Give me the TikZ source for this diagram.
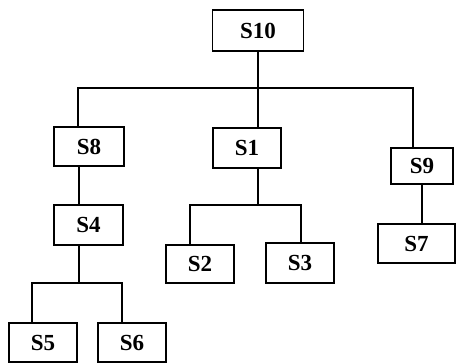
\documentclass[tikz,border=0pt]{standalone}
\usepackage{fontspec}
\setmainfont{Liberation Serif}
\begin{document}
\begin{tikzpicture}[x=1pt,y=-1pt,
  box/.style={draw,line width=1.3pt,rectangle,inner sep=0pt,
    font=\fontsize{23}{25}\selectfont\bfseries},
  link/.style={line width=1.3pt}]
\useasboundingbox (0,0) rectangle (457,363);
% boxes
\node[box,minimum width=91pt,minimum height=41pt] (S10) at (258,30.5) {S10};
\node[box,minimum width=70pt,minimum height=39pt] (S8) at (89,146.5) {S8};
\node[box,minimum width=68pt,minimum height=40pt] (S1) at (247,148) {S1};
\node[box,minimum width=62pt,minimum height=36pt] (S9) at (422,166) {S9};
\node[box,minimum width=69pt,minimum height=40pt] (S4) at (88.5,225) {S4};
\node[box,minimum width=68pt,minimum height=38pt] (S2) at (200,264) {S2};
\node[box,minimum width=68pt,minimum height=40pt] (S3) at (300,263) {S3};
\node[box,minimum width=77pt,minimum height=39pt] (S7) at (416.5,243.5) {S7};
\node[box,minimum width=68pt,minimum height=39pt] (S5) at (43,342.5) {S5};
\node[box,minimum width=68pt,minimum height=39pt] (S6) at (132,342.5) {S6};
% bus levels
\coordinate (busA) at (0,88);
\coordinate (busB) at (0,283);
\coordinate (busC) at (0,205);
% attachment points on the boxes
\coordinate (t8) at ([xshift=-11pt]S8.north);
\coordinate (b8) at ([xshift=-10pt]S8.south);
\coordinate (t1) at ([xshift=11pt]S1.north);
\coordinate (b1) at ([xshift=11pt]S1.south);
\coordinate (t9) at ([xshift=-9pt]S9.north);
\coordinate (t4) at ([xshift=-9.5pt]S4.north);
\coordinate (b4) at ([xshift=-9.5pt]S4.south);
\coordinate (t5) at ([xshift=-11pt]S5.north);
\coordinate (t6) at ([xshift=-10pt]S6.north);
\coordinate (t2) at ([xshift=-10pt]S2.north);
\coordinate (t3) at ([xshift=1pt]S3.north);
\coordinate (t7) at ([xshift=5.5pt]S7.north);
% connectors
\draw[link] (S10.south) -- (S10.south |- busA);
\draw[link] (t8) -- (t8 |- busA) -- (t9 |- busA) -- (t9);
\draw[link] (t1) -- (t1 |- busA);
\draw[link] (b8) -- (t4);
\draw[link] (b4) -- (b4 |- busB);
\draw[link] (t5) -- (t5 |- busB) -- (t6 |- busB) -- (t6);
\draw[link] (b1) -- (b1 |- busC);
\draw[link] (t2) -- (t2 |- busC) -- (t3 |- busC) -- (t3);
\draw[link] (S9.south) -- (t7);
\end{tikzpicture}
\end{document}
